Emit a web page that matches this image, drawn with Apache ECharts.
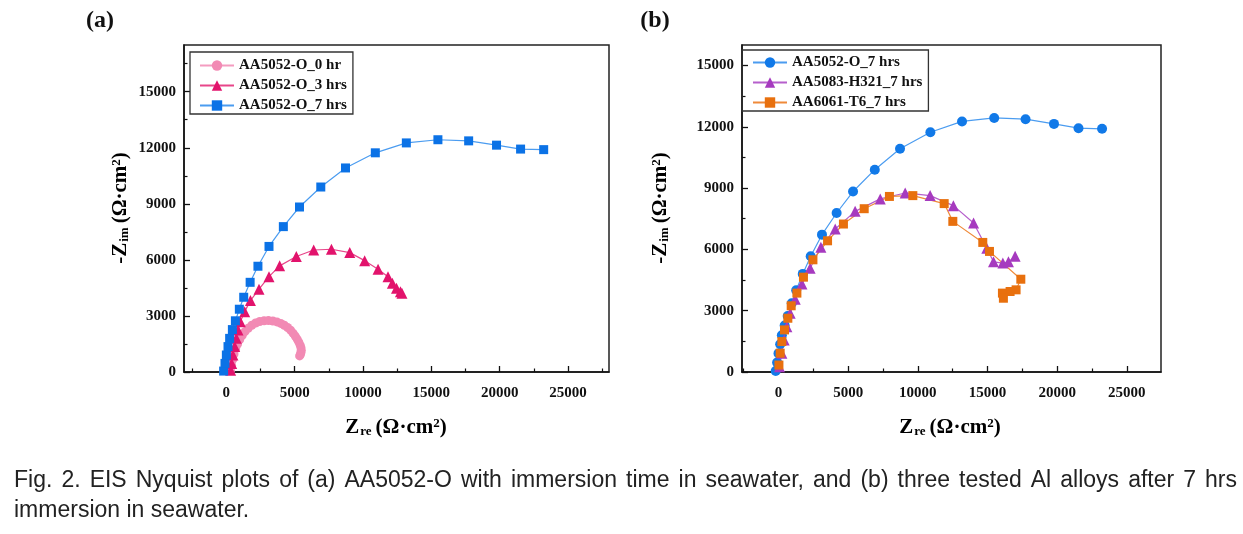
<!DOCTYPE html>
<html>
<head>
<meta charset="utf-8">
<script src="https://cdn.jsdelivr.net/npm/echarts@6/dist/echarts.min.js"></script>
<style>
  html, body { margin: 0; padding: 0; background: #fff; }
  #chart { width: 1243px; height: 534px; }
</style>
</head>
<body>
<div id="chart"></div>
<script>
// Nyquist data, Z_re / -Z_im in Ω·cm²
const o0hrRe = [300, 380, 460, 560, 680, 820, 980, 1160, 1360, 1600, 1860, 2140, 2440, 2760, 3080, 3400, 3700, 3980, 4240, 4480, 4700, 4880, 5040, 5180, 5300, 5400, 5460, 5480, 5460, 5420, 5360];
const o0hrIm = [80, 360, 660, 960, 1240, 1500, 1740, 1960, 2160, 2340, 2500, 2620, 2700, 2740, 2750, 2730, 2680, 2600, 2500, 2380, 2240, 2080, 1920, 1760, 1600, 1440, 1300, 1160, 1040, 940, 860];

const o3hrRe = [310, 390, 480, 610, 730, 850, 1020, 1340, 1760, 2390, 3120, 3900, 5120, 6390, 7690, 9030, 10120, 11100, 11830, 12150, 12450, 12740, 12850];
const o3hrIm = [100, 460, 910, 1360, 1800, 2250, 2690, 3230, 3820, 4430, 5100, 5680, 6180, 6530, 6570, 6390, 5960, 5500, 5100, 4750, 4480, 4300, 4220];

const o7hrRe = [-200, -100, 0, 120, 240, 440, 660, 950, 1270, 1740, 2310, 3120, 4170, 5350, 6910, 8720, 10900, 13170, 15480, 17730, 19770, 21530, 23220];
const o7hrIm = [50, 460, 910, 1360, 1800, 2270, 2740, 3360, 4000, 4800, 5660, 6720, 7780, 8830, 9900, 10920, 11730, 12260, 12430, 12370, 12140, 11930, 11900];

const h321Re = [70, 240, 410, 600, 840, 1200, 1680, 2270, 3040, 4070, 5500, 7300, 9090, 10880, 12550, 14000, 14950, 15430, 16100, 16500, 16980];
const h321Im = [260, 920, 1570, 2220, 2880, 3560, 4310, 5080, 6110, 7000, 7860, 8470, 8760, 8630, 8140, 7290, 6060, 5390, 5330, 5390, 5660];

const t6Re = [30, 120, 240, 430, 670, 910, 1320, 1790, 2470, 3520, 4660, 6150, 7960, 9640, 11890, 12510, 14660, 15140, 17390, 17050, 16620, 16070, 16140];
const t6Im = [340, 920, 1490, 2060, 2630, 3240, 3860, 4640, 5490, 6420, 7240, 7990, 8590, 8630, 8240, 7370, 6340, 5900, 4540, 4020, 3940, 3860, 3610];

const xMajor = [0, 5000, 10000, 15000, 20000, 25000];
const xMinor = [-2500, 2500, 7500, 12500, 17500, 22500, 27500];
const yMajor = [0, 3000, 6000, 9000, 12000, 15000];
const yMinorA = [1500, 4500, 7500, 10500, 13500, 16500];
const yMinorB = [1500, 4500, 7500, 10500, 13500];

const caption1 = 'Fig. 2. EIS Nyquist plots of (a) AA5052-O with immersion time in seawater, and (b) three tested Al alloys after 7 hrs';
const caption2 = 'immersion in seawater.';

const zip = (xs, ys) => xs.map((x, i) => [x, ys[i]]);

const SERIF = '"Liberation Serif", "Times New Roman", serif';
const SANS = '"Liberation Sans", Arial, sans-serif';

const tickLabel = { color: '#111', fontFamily: SERIF, fontWeight: 'bold', fontSize: 15, formatter: v => String(v) };

function mainX(grid, min, max) {
  return {
    type: 'value', gridIndex: grid, min: min, max: max,
    axisLine: { show: true, onZero: false, lineStyle: { color: '#111', width: 1.5 } },
    axisTick: { show: true, inside: true, length: 6, customValues: xMajor, lineStyle: { color: '#111', width: 1.3 } },
    axisLabel: Object.assign({ customValues: xMajor, margin: 14 }, tickLabel),
    splitLine: { show: false }
  };
}
function minorX(grid, min, max) {
  return {
    type: 'value', gridIndex: grid, min: min, max: max, position: 'bottom',
    axisLine: { show: false, onZero: false },
    axisTick: { show: true, inside: true, length: 3.5, customValues: xMinor, lineStyle: { color: '#111', width: 1.2 } },
    axisLabel: { show: false },
    splitLine: { show: false }
  };
}
function mainY(grid, max) {
  return {
    type: 'value', gridIndex: grid, min: 0, max: max,
    axisLine: { show: true, onZero: false, lineStyle: { color: '#111', width: 1.5 } },
    axisTick: { show: true, inside: true, length: 6, customValues: yMajor, lineStyle: { color: '#111', width: 1.3 } },
    axisLabel: Object.assign({ customValues: yMajor, margin: 8 }, tickLabel),
    splitLine: { show: false }
  };
}
function minorY(grid, max, vals) {
  return {
    type: 'value', gridIndex: grid, min: 0, max: max, position: 'left',
    axisLine: { show: false, onZero: false },
    axisTick: { show: true, inside: true, length: 3.5, customValues: vals, lineStyle: { color: '#111', width: 1.2 } },
    axisLabel: { show: false },
    splitLine: { show: false }
  };
}

function series(name, data, xi, yi, symbol, size, color, lineColor) {
  return {
    name: name, type: 'line', xAxisIndex: xi, yAxisIndex: yi,
    data: data, symbol: symbol, symbolSize: size, showAllSymbol: true,
    lineStyle: { width: 1.2, color: lineColor },
    itemStyle: { color: color },
    emphasis: { disabled: true },
    animation: false
  };
}

const legendText = { fontFamily: SERIF, fontWeight: 'bold', fontSize: 15, color: '#111', lineHeight: 17 };

// rich text for axis titles
const titleRich = {
  b: { fontFamily: SERIF, fontWeight: 'bold', fontSize: 21, color: '#111' },
  sub: { fontFamily: SERIF, fontWeight: 'bold', fontSize: 13, color: '#111', verticalAlign: 'bottom', padding: [0, 4, 0, 1] },
  sup: { fontFamily: SERIF, fontWeight: 'bold', fontSize: 13, color: '#111', verticalAlign: 'top' }
};
const xTitle = '{b|Z}{sub|re}{b|(Ω·cm}{sup|2}{b|)}';
const yTitle = '{b|-Z}{sub|im}{b|(Ω·cm}{sup|2}{b|)}';

// justify the first caption line across the page width
function justified(text, left, right, y, font) {
  const ctx = document.createElement('canvas').getContext('2d');
  ctx.font = font;
  const words = text.split(' ');
  const widths = words.map(w => ctx.measureText(w).width);
  const total = widths.reduce((a, b) => a + b, 0);
  const gap = (right - left - total) / (words.length - 1);
  let x = left;
  return words.map((w, i) => {
    const el = { type: 'text', x: x, y: y, style: { text: w, font: font, fill: '#222', textVerticalAlign: 'middle' } };
    x += widths[i] + gap;
    return el;
  });
}
const capFont = '23px ' + SANS;

const chart = echarts.init(document.getElementById('chart'), null, { renderer: 'canvas' });
chart.setOption({
  backgroundColor: '#fff',
  animation: false,
  grid: [
    { left: 184, top: 45, width: 425, height: 327, show: true, borderColor: '#222', borderWidth: 1.5, backgroundColor: 'transparent' },
    { left: 742, top: 45, width: 419, height: 327, show: true, borderColor: '#222', borderWidth: 1.5, backgroundColor: 'transparent' }
  ],
  xAxis: [mainX(0, -3100, 28000), minorX(0, -3100, 28000), mainX(1, -2620, 27450), minorX(1, -2620, 27450)],
  yAxis: [mainY(0, 17500), minorY(0, 17500, yMinorA), mainY(1, 16000), minorY(1, 16000, yMinorB)],
  legend: [
    {
      data: ['AA5052-O_0 hr', 'AA5052-O_3 hrs', 'AA5052-O_7 hrs'],
      orient: 'vertical', left: 190, top: 52, itemWidth: 34, itemHeight: 13, itemGap: 3,
      padding: [5, 6, 0, 9], borderColor: '#333', borderWidth: 1.3, textStyle: legendText
    },
    {
      data: ['AA5052-O_7 hrs ', 'AA5083-H321_7 hrs', 'AA6061-T6_7 hrs'],
      orient: 'vertical', left: 742, top: 50, itemWidth: 34, itemHeight: 13, itemGap: 3,
      padding: [4, 6, 0, 10], borderColor: '#333', borderWidth: 1.3, textStyle: legendText
    }
  ],
  series: [
    series('AA5052-O_0 hr', zip(o0hrRe, o0hrIm), 0, 0, 'circle', 9, '#f28ab4', '#f49cc0'),
    series('AA5052-O_3 hrs', zip(o3hrRe, o3hrIm), 0, 0, 'triangle', 11, '#e2136c', '#e8468a'),
    series('AA5052-O_7 hrs', zip(o7hrRe, o7hrIm), 0, 0, 'rect', 9, '#0b72e6', '#4b9cf0'),
    series('AA5052-O_7 hrs ', zip(o7hrRe, o7hrIm), 2, 2, 'circle', 10, '#1179e8', '#4b9cf0'),
    series('AA5083-H321_7 hrs', zip(h321Re, h321Im), 2, 2, 'triangle', 11, '#a63abf', '#b65fcc'),
    series('AA6061-T6_7 hrs', zip(t6Re, t6Im), 2, 2, 'rect', 9, '#e8700e', '#ef8a3a')
  ],
  graphic: [
    { type: 'text', x: 100, y: 21, style: { text: '(a)', font: 'bold 24px ' + SERIF, fill: '#111', textAlign: 'center', textVerticalAlign: 'middle' } },
    { type: 'text', x: 655, y: 21, style: { text: '(b)', font: 'bold 24px ' + SERIF, fill: '#111', textAlign: 'center', textVerticalAlign: 'middle' } },
    { type: 'text', x: 396, y: 428, style: { text: xTitle, rich: titleRich, textAlign: 'center', textVerticalAlign: 'middle' } },
    { type: 'text', x: 950, y: 428, style: { text: xTitle, rich: titleRich, textAlign: 'center', textVerticalAlign: 'middle' } },
    { type: 'text', x: 121, y: 208, rotation: Math.PI / 2, style: { text: yTitle, rich: titleRich, textAlign: 'center', textVerticalAlign: 'middle' } },
    { type: 'text', x: 661, y: 208, rotation: Math.PI / 2, style: { text: yTitle, rich: titleRich, textAlign: 'center', textVerticalAlign: 'middle' } },
    ...justified(caption1, 14, 1237, 481, capFont),
    { type: 'text', x: 14, y: 511, style: { text: caption2, font: capFont, fill: '#222', textVerticalAlign: 'middle' } }
  ]
});
</script>
</body>
</html>
